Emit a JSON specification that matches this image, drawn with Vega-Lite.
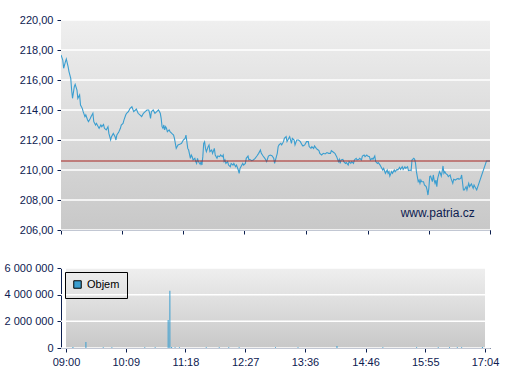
{
  "$schema": "https://vega.github.io/schema/vega-lite/v6.json",
  "background": "white",
  "padding": {"left": 4, "top": 14, "right": 5, "bottom": 5},
  "spacing": 27,
  "resolve": {"legend": {"color": "independent"}},
  "config": {
    "locale": {"number": {"decimal": ",", "thousands": " ", "grouping": [3], "currency": ["", ""]}},
    "view": {"stroke": null},
    "axis": {"domainColor": "#0d2050", "tickColor": "#0d2050", "labelColor": "#0d2050", "labelFont": "Liberation Sans", "labelFontSize": 11, "grid": false, "tickSize": 4, "labelPadding": 4, "domainWidth": 1, "tickWidth": 1, "zindex": 1, "labelOverlap": false}
  },
  "datasets": {
    "bg_top": [{"t0": "09:00", "t1": "17:04", "y0": 206, "y1": 220}],
    "bg_bot": [{"t0": "09:00", "t1": "17:04", "y0": 0, "y1": 6000000}],
    "ticks": [{"t": "09:00"}, {"t": "10:09"}, {"t": "11:18"}, {"t": "12:27"}, {"t": "13:36"}, {"t": "14:46"}, {"t": "15:55"}, {"t": "17:04"}],
    "ygrid_top": [{"g": 206}, {"g": 208}, {"g": 210}, {"g": 212}, {"g": 214}, {"g": 216}, {"g": 218}, {"g": 220}],
    "ygrid_bot": [{"g": 0}, {"g": 2000000}, {"g": 4000000}, {"g": 6000000}],
    "price": [
      {"t":"09:00","p":217.67},{"t":"09:02","p":217.33},{"t":"09:03","p":216.78},{"t":"09:05","p":217.22},{"t":"09:06","p":217.4},{"t":"09:08","p":216.89},{"t":"09:09","p":216.56},{"t":"09:11","p":216.11},{"t":"09:12","p":215.33},{"t":"09:13","p":214.78},{"t":"09:15","p":215.56},{"t":"09:16","p":215.71},{"t":"09:18","p":215.33},{"t":"09:19","p":214.78},{"t":"09:21","p":215.0},{"t":"09:22","p":214.33},{"t":"09:24","p":214.11},{"t":"09:25","p":213.89},{"t":"09:27","p":213.56},{"t":"09:28","p":213.67},{"t":"09:30","p":213.33},{"t":"09:31","p":213.22},{"t":"09:33","p":213.44},{"t":"09:34","p":213.56},{"t":"09:36","p":213.78},{"t":"09:37","p":213.22},{"t":"09:39","p":213.0},{"t":"09:40","p":213.11},{"t":"09:42","p":212.89},{"t":"09:43","p":212.78},{"t":"09:45","p":213.0},{"t":"09:46","p":212.89},{"t":"09:48","p":213.04},{"t":"09:49","p":212.78},{"t":"09:51","p":212.67},{"t":"09:53","p":212.89},{"t":"09:54","p":212.44},{"t":"09:56","p":212.0},{"t":"09:57","p":212.22},{"t":"09:59","p":212.44},{"t":"10:01","p":212.22},{"t":"10:02","p":212.0},{"t":"10:03","p":212.33},{"t":"10:05","p":212.51},{"t":"10:07","p":212.78},{"t":"10:08","p":213.0},{"t":"10:10","p":213.11},{"t":"10:11","p":213.33},{"t":"10:13","p":213.67},{"t":"10:14","p":213.78},{"t":"10:16","p":213.89},{"t":"10:17","p":214.0},{"t":"10:18","p":214.11},{"t":"10:20","p":214.22},{"t":"10:22","p":213.89},{"t":"10:24","p":214.0},{"t":"10:25","p":214.07},{"t":"10:27","p":213.78},{"t":"10:29","p":213.67},{"t":"10:31","p":213.56},{"t":"10:33","p":213.78},{"t":"10:35","p":213.89},{"t":"10:37","p":214.0},{"t":"10:39","p":214.0},{"t":"10:40","p":213.78},{"t":"10:41","p":213.44},{"t":"10:42","p":213.89},{"t":"10:44","p":214.0},{"t":"10:46","p":213.78},{"t":"10:48","p":213.89},{"t":"10:50","p":214.0},{"t":"10:52","p":213.78},{"t":"10:53","p":213.44},{"t":"10:54","p":212.89},{"t":"10:55","p":212.78},{"t":"10:56","p":213.0},{"t":"10:57","p":212.67},{"t":"10:58","p":212.89},{"t":"10:59","p":212.78},{"t":"11:00","p":212.56},{"t":"11:02","p":212.67},{"t":"11:03","p":212.56},{"t":"11:05","p":212.44},{"t":"11:07","p":212.33},{"t":"11:08","p":212.11},{"t":"11:09","p":211.78},{"t":"11:10","p":211.44},{"t":"11:12","p":211.67},{"t":"11:14","p":211.71},{"t":"11:16","p":211.78},{"t":"11:18","p":212.0},{"t":"11:20","p":212.11},{"t":"11:21","p":212.33},{"t":"11:22","p":211.89},{"t":"11:23","p":211.44},{"t":"11:24","p":211.33},{"t":"11:26","p":210.78},{"t":"11:27","p":211.0},{"t":"11:28","p":210.89},{"t":"11:29","p":210.67},{"t":"11:31","p":210.78},{"t":"11:32","p":210.56},{"t":"11:33","p":210.44},{"t":"11:34","p":210.78},{"t":"11:35","p":210.56},{"t":"11:37","p":210.38},{"t":"11:38","p":210.56},{"t":"11:39","p":210.33},{"t":"11:40","p":210.89},{"t":"11:41","p":211.78},{"t":"11:42","p":211.89},{"t":"11:43","p":211.44},{"t":"11:44","p":211.22},{"t":"11:46","p":211.56},{"t":"11:47","p":211.67},{"t":"11:48","p":211.22},{"t":"11:50","p":211.33},{"t":"11:51","p":211.11},{"t":"11:53","p":211.44},{"t":"11:54","p":211.0},{"t":"11:56","p":210.78},{"t":"11:57","p":210.93},{"t":"11:59","p":210.89},{"t":"12:00","p":211.0},{"t":"12:02","p":210.89},{"t":"12:03","p":211.0},{"t":"12:04","p":210.56},{"t":"12:05","p":210.67},{"t":"12:06","p":210.44},{"t":"12:08","p":210.56},{"t":"12:09","p":210.33},{"t":"12:11","p":210.22},{"t":"12:12","p":210.44},{"t":"12:14","p":210.33},{"t":"12:15","p":210.44},{"t":"12:17","p":210.22},{"t":"12:18","p":210.33},{"t":"12:20","p":210.0},{"t":"12:21","p":209.78},{"t":"12:22","p":210.11},{"t":"12:23","p":210.22},{"t":"12:25","p":210.44},{"t":"12:26","p":210.33},{"t":"12:28","p":210.44},{"t":"12:29","p":210.78},{"t":"12:31","p":210.93},{"t":"12:32","p":210.67},{"t":"12:33","p":210.71},{"t":"12:35","p":210.62},{"t":"12:37","p":210.67},{"t":"12:39","p":210.78},{"t":"12:41","p":210.93},{"t":"12:43","p":211.11},{"t":"12:45","p":211.33},{"t":"12:46","p":211.11},{"t":"12:48","p":210.93},{"t":"12:50","p":210.78},{"t":"12:52","p":210.56},{"t":"12:54","p":210.93},{"t":"12:56","p":211.0},{"t":"12:58","p":210.95},{"t":"13:00","p":210.78},{"t":"13:01","p":210.44},{"t":"13:03","p":210.89},{"t":"13:04","p":211.11},{"t":"13:05","p":211.56},{"t":"13:06","p":211.67},{"t":"13:08","p":211.78},{"t":"13:09","p":211.67},{"t":"13:11","p":211.89},{"t":"13:12","p":212.11},{"t":"13:14","p":212.22},{"t":"13:15","p":211.89},{"t":"13:17","p":212.11},{"t":"13:18","p":212.22},{"t":"13:20","p":211.78},{"t":"13:21","p":212.11},{"t":"13:23","p":212.0},{"t":"13:24","p":211.67},{"t":"13:26","p":212.0},{"t":"13:28","p":212.0},{"t":"13:30","p":211.89},{"t":"13:32","p":211.67},{"t":"13:33","p":211.6},{"t":"13:35","p":211.67},{"t":"13:37","p":211.89},{"t":"13:39","p":211.89},{"t":"13:40","p":211.56},{"t":"13:42","p":211.44},{"t":"13:43","p":211.56},{"t":"13:45","p":211.44},{"t":"13:46","p":211.6},{"t":"13:48","p":211.44},{"t":"13:49","p":211.38},{"t":"13:51","p":211.29},{"t":"13:52","p":211.11},{"t":"13:54","p":211.0},{"t":"13:56","p":211.11},{"t":"13:58","p":211.07},{"t":"14:00","p":211.16},{"t":"14:02","p":211.11},{"t":"14:04","p":211.11},{"t":"14:05","p":211.29},{"t":"14:07","p":211.2},{"t":"14:09","p":211.11},{"t":"14:11","p":210.89},{"t":"14:13","p":210.56},{"t":"14:14","p":210.71},{"t":"14:15","p":210.44},{"t":"14:16","p":210.67},{"t":"14:18","p":210.71},{"t":"14:19","p":210.56},{"t":"14:21","p":210.44},{"t":"14:22","p":210.49},{"t":"14:24","p":210.33},{"t":"14:25","p":210.56},{"t":"14:27","p":210.44},{"t":"14:28","p":210.56},{"t":"14:30","p":210.44},{"t":"14:31","p":210.67},{"t":"14:33","p":210.78},{"t":"14:34","p":210.67},{"t":"14:36","p":210.71},{"t":"14:37","p":210.78},{"t":"14:39","p":210.67},{"t":"14:40","p":210.93},{"t":"14:42","p":211.0},{"t":"14:43","p":210.89},{"t":"14:45","p":211.0},{"t":"14:46","p":210.93},{"t":"14:48","p":210.89},{"t":"14:49","p":210.67},{"t":"14:51","p":210.78},{"t":"14:52","p":210.71},{"t":"14:54","p":210.93},{"t":"14:55","p":210.56},{"t":"14:57","p":210.44},{"t":"14:58","p":210.49},{"t":"15:00","p":210.33},{"t":"15:01","p":210.22},{"t":"15:03","p":210.0},{"t":"15:04","p":210.11},{"t":"15:06","p":209.78},{"t":"15:08","p":210.0},{"t":"15:09","p":209.78},{"t":"15:10","p":209.89},{"t":"15:11","p":209.6},{"t":"15:13","p":209.89},{"t":"15:14","p":209.78},{"t":"15:16","p":210.0},{"t":"15:17","p":209.89},{"t":"15:19","p":210.04},{"t":"15:20","p":210.0},{"t":"15:22","p":210.18},{"t":"15:23","p":210.04},{"t":"15:25","p":210.22},{"t":"15:26","p":210.04},{"t":"15:28","p":210.22},{"t":"15:29","p":210.11},{"t":"15:31","p":210.22},{"t":"15:32","p":209.96},{"t":"15:34","p":210.0},{"t":"15:35","p":209.96},{"t":"15:36","p":210.67},{"t":"15:38","p":210.78},{"t":"15:39","p":210.71},{"t":"15:40","p":210.44},{"t":"15:41","p":209.89},{"t":"15:42","p":209.56},{"t":"15:43","p":209.22},{"t":"15:44","p":209.33},{"t":"15:45","p":209.11},{"t":"15:46","p":209.33},{"t":"15:47","p":209.22},{"t":"15:49","p":209.22},{"t":"15:50","p":209.0},{"t":"15:52","p":208.89},{"t":"15:53","p":208.67},{"t":"15:54","p":208.33},{"t":"15:55","p":208.78},{"t":"15:56","p":209.56},{"t":"15:57","p":209.6},{"t":"15:59","p":209.22},{"t":"16:00","p":209.67},{"t":"16:01","p":209.33},{"t":"16:02","p":209.11},{"t":"16:03","p":209.33},{"t":"16:04","p":208.89},{"t":"16:05","p":209.44},{"t":"16:07","p":209.89},{"t":"16:08","p":209.78},{"t":"16:09","p":209.6},{"t":"16:10","p":209.89},{"t":"16:11","p":210.27},{"t":"16:12","p":209.78},{"t":"16:13","p":209.89},{"t":"16:14","p":209.78},{"t":"16:16","p":209.67},{"t":"16:17","p":209.56},{"t":"16:19","p":209.67},{"t":"16:20","p":209.44},{"t":"16:22","p":209.11},{"t":"16:23","p":209.38},{"t":"16:25","p":209.33},{"t":"16:26","p":209.38},{"t":"16:28","p":209.44},{"t":"16:29","p":209.38},{"t":"16:31","p":209.44},{"t":"16:32","p":209.67},{"t":"16:34","p":208.67},{"t":"16:35","p":208.67},{"t":"16:37","p":208.89},{"t":"16:38","p":208.67},{"t":"16:40","p":209.11},{"t":"16:41","p":208.89},{"t":"16:43","p":209.07},{"t":"16:45","p":208.78},{"t":"16:46","p":209.0},{"t":"16:47","p":208.89},{"t":"16:49","p":208.67},{"t":"17:00","p":210.6},{"t":"17:04","p":210.6}
    ],
    "volume": [
      {"t":"09:08","v":70000},{"t":"09:23","v":450000},{"t":"09:43","v":60000},{"t":"09:53","v":60000},{"t":"10:31","v":60000},{"t":"10:43","v":60000},{"t":"10:58","v":2100000},{"t":"11:00","v":4300000},{"t":"11:02","v":80000},{"t":"11:06","v":60000},{"t":"11:11","v":60000},{"t":"11:42","v":60000},{"t":"11:57","v":60000},{"t":"12:08","v":60000},{"t":"12:20","v":60000},{"t":"13:02","v":60000},{"t":"13:28","v":60000},{"t":"14:13","v":150000},{"t":"15:06","v":60000},{"t":"15:45","v":60000},{"t":"16:10","v":60000},{"t":"16:23","v":60000},{"t":"16:32","v":60000},{"t":"16:37","v":60000},{"t":"17:01","v":80000}
    ]
  },
  "vconcat": [
    {
      "width": 429,
      "height": 210,
      "layer": [
        {
          "data": {"name": "bg_top", "format": {"parse": {"t0": "date:'%H:%M'", "t1": "date:'%H:%M'"}}},
          "mark": {"type": "rect", "color": {"gradient": "linear", "x1": 1, "y1": 0, "x2": 1, "y2": 1, "stops": [{"offset": 0, "color": "#efefef"}, {"offset": 1, "color": "#c8c8c8"}]}},
          "encoding": {
            "x": {"field": "t0", "type": "temporal",
              "scale": {"domain": [{"year": 1900, "month": 1, "date": 1, "hours": 9, "minutes": 0}, {"year": 1900, "month": 1, "date": 1, "hours": 17, "minutes": 4}], "nice": false},
              "axis": {"title": null, "labels": false, "tickCount": 20, "values": [
                {"year": 1900, "month": 1, "date": 1, "hours": 9, "minutes": 0},
                {"year": 1900, "month": 1, "date": 1, "hours": 10, "minutes": 9},
                {"year": 1900, "month": 1, "date": 1, "hours": 11, "minutes": 18},
                {"year": 1900, "month": 1, "date": 1, "hours": 12, "minutes": 27},
                {"year": 1900, "month": 1, "date": 1, "hours": 13, "minutes": 36},
                {"year": 1900, "month": 1, "date": 1, "hours": 14, "minutes": 46},
                {"year": 1900, "month": 1, "date": 1, "hours": 15, "minutes": 55},
                {"year": 1900, "month": 1, "date": 1, "hours": 17, "minutes": 4}]}},
            "x2": {"field": "t1"},
            "y": {"field": "y0", "type": "quantitative",
              "scale": {"domain": [206, 220], "nice": false, "zero": false},
              "axis": {"title": null, "tickCount": 20, "values": [206, 208, 210, 212, 214, 216, 218, 220], "format": ".2f", "labelOverlap": false, "labelBound": false, "labelFlush": false}},
            "y2": {"field": "y1"}
          }
        },
        {
          "data": {"name": "ticks", "format": {"parse": {"t": "date:'%H:%M'"}}},
          "mark": {"type": "rule", "color": "#ffffff", "strokeWidth": 1.5},
          "encoding": {"x": {"field": "t", "type": "temporal"}}
        },
        {
          "data": {"name": "ygrid_top"},
          "mark": {"type": "rule", "color": "#ffffff", "strokeWidth": 1.5},
          "encoding": {"y": {"field": "g", "type": "quantitative"}}
        },
        {
          "data": {"name": "price", "format": {"parse": {"t": "date:'%H:%M'"}}},
          "mark": {"type": "line", "color": "#3a9ed0", "strokeWidth": 1.1, "clip": true},
          "encoding": {
            "x": {"field": "t", "type": "temporal"},
            "y": {"field": "p", "type": "quantitative"}
          }
        },
        {
          "data": {"values": [{"ref": 210.6}]},
          "mark": {"type": "rule", "color": "#a82420", "strokeWidth": 1},
          "encoding": {"y": {"field": "ref", "type": "quantitative"}}
        },
        {
          "data": {"values": [{"t": "16:05", "p": 207.13, "label": "www.patria.cz"}], "format": {"parse": {"t": "date:'%H:%M'"}}},
          "mark": {"type": "text", "font": "Liberation Sans", "fontSize": 12, "color": "#0d2050", "align": "center", "baseline": "middle"},
          "encoding": {
            "x": {"field": "t", "type": "temporal"},
            "y": {"field": "p", "type": "quantitative"},
            "text": {"field": "label"}
          }
        }
      ]
    },
    {
      "width": 429,
      "height": 80,
      "layer": [
        {
          "data": {"name": "bg_bot", "format": {"parse": {"t0": "date:'%H:%M'", "t1": "date:'%H:%M'"}}},
          "mark": {"type": "rect", "color": {"gradient": "linear", "x1": 1, "y1": 0, "x2": 1, "y2": 1, "stops": [{"offset": 0, "color": "#efefef"}, {"offset": 1, "color": "#c8c8c8"}]}},
          "encoding": {
            "x": {"field": "t0", "type": "temporal",
              "scale": {"domain": [{"year": 1900, "month": 1, "date": 1, "hours": 9, "minutes": 0}, {"year": 1900, "month": 1, "date": 1, "hours": 17, "minutes": 4}], "nice": false},
              "axis": {"title": null, "format": "%H:%M", "labelFlush": false, "tickCount": 20, "values": [
                {"year": 1900, "month": 1, "date": 1, "hours": 9, "minutes": 0},
                {"year": 1900, "month": 1, "date": 1, "hours": 10, "minutes": 9},
                {"year": 1900, "month": 1, "date": 1, "hours": 11, "minutes": 18},
                {"year": 1900, "month": 1, "date": 1, "hours": 12, "minutes": 27},
                {"year": 1900, "month": 1, "date": 1, "hours": 13, "minutes": 36},
                {"year": 1900, "month": 1, "date": 1, "hours": 14, "minutes": 46},
                {"year": 1900, "month": 1, "date": 1, "hours": 15, "minutes": 55},
                {"year": 1900, "month": 1, "date": 1, "hours": 17, "minutes": 4}]}},
            "x2": {"field": "t1"},
            "y": {"field": "y0", "type": "quantitative",
              "scale": {"domain": [0, 6000000], "nice": false},
              "axis": {"title": null, "tickCount": 20, "values": [0, 2000000, 4000000, 6000000], "format": ",d", "labelOverlap": false, "labelBound": false, "labelFlush": false}},
            "y2": {"field": "y1"}
          }
        },
        {
          "data": {"name": "ticks", "format": {"parse": {"t": "date:'%H:%M'"}}},
          "mark": {"type": "rule", "color": "#ffffff", "strokeWidth": 1.5},
          "encoding": {"x": {"field": "t", "type": "temporal"}}
        },
        {
          "data": {"name": "ygrid_bot"},
          "mark": {"type": "rule", "color": "#ffffff", "strokeWidth": 1.5},
          "encoding": {"y": {"field": "g", "type": "quantitative"}}
        },
        {
          "data": {"name": "volume", "format": {"parse": {"t": "date:'%H:%M'"}}},
          "mark": {"type": "bar", "width": 1},
          "encoding": {
            "x": {"field": "t", "type": "temporal"},
            "y": {"field": "v", "type": "quantitative"},
            "color": {"datum": "Objem", "type": "nominal",
              "scale": {"range": ["#3a9ed0"]},
              "legend": {"title": null, "orient": "top-left", "offset": 4, "padding": 7, "strokeColor": "#000000", "symbolType": "square", "symbolSize": 56, "symbolStrokeColor": "#000000", "symbolStrokeWidth": 1, "labelFont": "Liberation Sans", "labelFontSize": 11, "labelColor": "#000000", "labelOffset": 4}}
          }
        }
      ]
    }
  ]
}
